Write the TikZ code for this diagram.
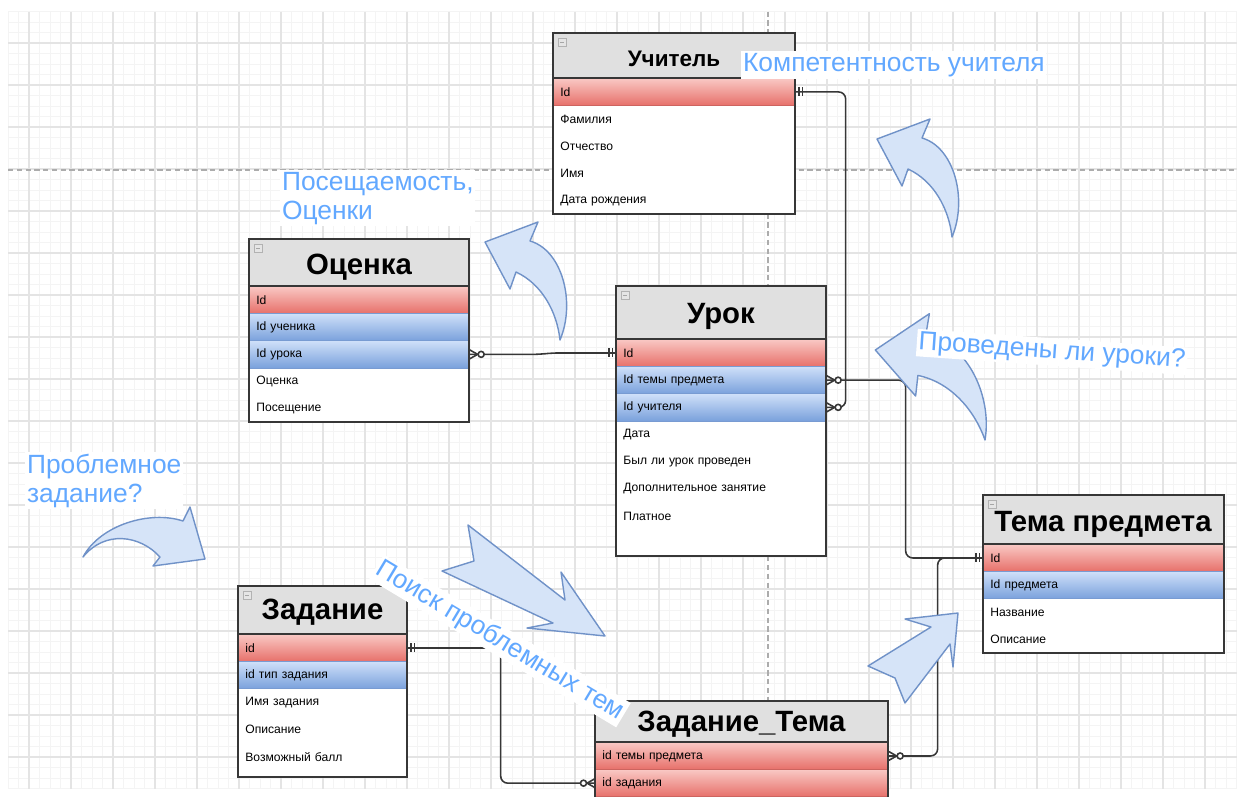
\documentclass[tikz,border=0pt]{standalone}
\usepackage{fontspec}
\setmainfont{Liberation Sans}
\usetikzlibrary{calc}
\definecolor{gridminor}{RGB}{244,244,244}
\definecolor{gridmajor}{RGB}{228,228,228}
\definecolor{hdrgray}{RGB}{224,224,224}
\definecolor{framegray}{RGB}{55,55,55}
\definecolor{pktop}{RGB}{249,200,196}
\definecolor{pkbot}{RGB}{231,112,106}
\definecolor{pkline}{RGB}{205,100,95}
\definecolor{fktop}{RGB}{207,224,249}
\definecolor{fkbot}{RGB}{122,161,220}
\definecolor{fkline}{RGB}{120,155,210}
\definecolor{arrowfill}{RGB}{214,228,248}
\definecolor{arrowline}{RGB}{112,146,200}
\definecolor{lblblue}{RGB}{98,168,255}

\newcommand\errow{\fontsize{6.9}{8}\selectfont}
\newcommand\ertitle{\bfseries\fontsize{16.7}{19}\selectfont}
\newcommand\erlabel{\fontsize{15}{16.5}\selectfont}

\tikzset{
  rowbase/.style={anchor=north west, minimum height=0.544cm, inner xsep=0.14cm,
    inner ysep=0pt, text width=#1, font=\errow},
  plainrow/.style={rowbase=#1},
  pkrow/.style={rowbase=#1, top color=pktop, bottom color=pkbot, draw=pkline, line width=0.4pt},
  fkrow/.style={rowbase=#1, top color=fktop, bottom color=fkbot, draw=fkline, line width=0.4pt},
  tbltitle/.style={anchor=base, inner sep=0pt, font=\ertitle},
  frame/.style={draw=framegray, line width=1pt},
  conn/.style={draw=framegray, line width=0.9pt, rounded corners=4pt},
  markline/.style={draw=framegray, line width=0.9pt},
  blockarrow/.style={fill=arrowfill, draw=arrowline, line width=0.8pt, line join=round},
  lbl/.style={font=\erlabel, text=lblblue, fill=white, inner sep=1pt},
  onemark/.pic={\draw[markline] (3.5,-4.5) -- (3.5,4.5) (7,-4.5) -- (7,4.5);},
  manymark/.pic={\draw[markline] (0,-4.5) -- (8,0) -- (0,4.5);
    \draw[markline, fill=white] (11.5,0) circle[radius=3];},
  minusbox/.pic={\draw[gray!60, fill=gray!20, line width=0.3pt] (5,5) rectangle (13,13);
    \draw[gray!70, line width=0.4pt] (7,9) -- (11,9);},
  bendarrow/.pic={\draw[blockarrow] (0,0) .. controls (-3,-28) and (-18,-56) .. (-44,-68)
    -- (-50,-51) -- (-75,-98) -- (-22,-118) -- (-30,-99)
    .. controls (2,-90) and (16,-38) .. (0,0) -- cycle;}
}

\begin{document}
\begin{tikzpicture}[x=0.02cm,y=-0.02cm]
  \useasboundingbox (0,0) rectangle (1245,796);
  \clip (0,0) rectangle (1245,796);

  % background grid
  \foreach \i in {0,...,117}
    \draw[gridminor, line width=0.4pt] (8+10.5*\i,11.5) -- (8+10.5*\i,788.5);
  \foreach \j in {0,...,74}
    \draw[gridminor, line width=0.4pt] (8,11.5+10.5*\j) -- (1236.5,11.5+10.5*\j);
  \foreach \i in {2,6,...,114}
    \draw[gridmajor, line width=0.6pt] (8+10.5*\i,11.5) -- (8+10.5*\i,788.5);
  \foreach \j in {3,7,...,71}
    \draw[gridmajor, line width=0.6pt] (8,11.5+10.5*\j) -- (1236.5,11.5+10.5*\j);
  \draw[gray!65, line width=0.6pt, dash pattern=on 3pt off 2pt] (8,170) -- (1236.5,170);
  \draw[gray!65, line width=0.6pt, dash pattern=on 3pt off 2pt] (768,11.5) -- (768,788.5);

  % Учитель
  \fill[white] (553,33) rectangle (795,214);
  \fill[hdrgray] (553,33) rectangle (795,78);
  \pic at (553,33) {minusbox};
  \node[tbltitle, font=\bfseries\fontsize{12.8}{15}\selectfont] (uch) at (674,66) {Учитель};
  \node[pkrow=4.56cm] (uch-id) at (553,78) {Id};
  \foreach \t [count=\k] in {Фамилия,Отчество,Имя,Дата рождения}
    \node[plainrow=4.56cm] (uch-r\k) at (553,78+27.2*\k) {\t};
  \draw[frame] (553,33) rectangle (795,214);
  \draw[framegray, line width=0.6pt] (553,78) -- (795,78);

  % Оценка
  \fill[white] (249,239) rectangle (469,422);
  \fill[hdrgray] (249,239) rectangle (469,286);
  \pic at (249,239) {minusbox};
  \node[tbltitle] (ocn) at (359,274.5) {Оценка};
  \node[pkrow=4.12cm] (ocn-id) at (249,286) {Id};
  \node[fkrow=4.12cm] (ocn-uchen) at (249,313.2) {Id ученика};
  \node[fkrow=4.12cm] (ocn-urok) at (249,340.4) {Id урока};
  \node[plainrow=4.12cm] (ocn-r1) at (249,367.6) {Оценка};
  \node[plainrow=4.12cm] (ocn-r2) at (249,394.8) {Посещение};
  \draw[frame] (249,239) rectangle (469,422);
  \draw[framegray, line width=0.6pt] (249,286) -- (469,286);

  % Урок
  \fill[white] (616,286) rectangle (826,556);
  \fill[hdrgray] (616,286) rectangle (826,339);
  \pic at (616,286) {minusbox};
  \node[tbltitle] (urk) at (721,323) {Урок};
  \node[pkrow=3.92cm] (urk-id) at (616,339) {Id};
  \node[fkrow=3.92cm] (urk-tema) at (616,366.2) {Id темы предмета};
  \node[fkrow=3.92cm] (urk-uchit) at (616,393.4) {Id учителя};
  \foreach \t [count=\k] in {Дата,Был ли урок проведен,Дополнительное занятие,Платное}
    \node[plainrow=3.92cm] (urk-r\k) at (616,393.4+27.2*\k) {\t};
  \draw[frame] (616,286) rectangle (826,556);
  \draw[framegray, line width=0.6pt] (616,339) -- (826,339);

  % Тема предмета
  \fill[white] (983,495) rectangle (1224,653);
  \fill[hdrgray] (983,495) rectangle (1224,544);
  \pic at (983,495) {minusbox};
  \node[tbltitle] (tema) at (1103,531.5) {Тема предмета};
  \node[pkrow=4.54cm] (tema-id) at (983,544) {Id};
  \node[fkrow=4.54cm] (tema-pred) at (983,571.2) {Id предмета};
  \node[plainrow=4.54cm] (tema-r1) at (983,598.4) {Название};
  \node[plainrow=4.54cm] (tema-r2) at (983,625.6) {Описание};
  \draw[frame] (983,495) rectangle (1224,653);
  \draw[framegray, line width=0.6pt] (983,544) -- (1224,544);

  % Задание
  \fill[white] (238,586) rectangle (407,777);
  \fill[hdrgray] (238,586) rectangle (407,634);
  \pic at (238,586) {minusbox};
  \node[tbltitle] (zad) at (322.5,619) {Задание};
  \node[pkrow=3.10cm] (zad-id) at (238,634) {id};
  \node[fkrow=3.10cm] (zad-tip) at (238,661.2) {id тип задания};
  \foreach \t [count=\k] in {Имя задания,Описание,Возможный балл}
    \node[plainrow=3.10cm] (zad-r\k) at (238,661.2+27.2*\k) {\t};
  \draw[frame] (238,586) rectangle (407,777);
  \draw[framegray, line width=0.6pt] (238,634) -- (407,634);

  % Задание_Тема
  \fill[white] (595,701) rectangle (888,810);
  \fill[hdrgray] (595,701) rectangle (888,742);
  \node[tbltitle] (zt) at (741.5,731) {Задание\_Тема};
  \node[pkrow=5.58cm] (zt-tema) at (595,742) {id темы предмета};
  \node[pkrow=5.58cm] (zt-zad) at (595,769.2) {id задания};
  \draw[frame] (595,701) rectangle (888,810);
  \draw[framegray, line width=0.6pt] (595,742) -- (888,742);

  % связи
  \draw[conn] (uch-id.east) -- ++(50,0) |- (urk-uchit.east);
  \draw[conn] (urk-tema.east) -- ++(79,0) |- (tema-id.west);
  \draw[conn] (ocn-urok.east) -- ++(70,0) -- ($(urk-id.west)+(-64,0)$) -- (urk-id.west);
  \draw[conn] (zad-id.east) -- ++(93,0) |- (zt-zad.west);
  \draw[conn] (zt-tema.east) -- ++(49,0) |- (tema-id.west);

  \pic at (uch-id.east) {onemark};
  \pic at (urk-uchit.east) {manymark};
  \pic at (urk-tema.east) {manymark};
  \pic[xscale=-1] at (tema-id.west) {onemark};
  \pic at (ocn-urok.east) {manymark};
  \pic[xscale=-1] at (urk-id.west) {onemark};
  \pic at (zad-id.east) {onemark};
  \pic[xscale=-1] at (zt-zad.west) {manymark};
  \pic at (zt-tema.east) {manymark};

  % стрелки
  \pic at (560,340) {bendarrow};
  \pic at (952,237) {bendarrow};
  \pic[rotate=13.2, scale=1.15] at (985,440) {bendarrow};
  \draw[blockarrow] (83,557) .. controls (100,525) and (150,510) .. (183,521)
    -- (190,507) -- (205,559) -- (153,566) -- (160,557)
    .. controls (140,535) and (105,530) .. (83,557) -- cycle;
  \draw[blockarrow] (468,525) -- (565,600) -- (561,572) -- (605,636)
    -- (527,628) -- (553,623) -- (442,571) -- (474,561) -- cycle;
  \draw[blockarrow] (958,613) -- (905,619) -- (931,627) -- (868,666)
    -- (895,678) -- (905,703) -- (950,644) -- (953,667) -- cycle;

  % подписи
  \node[lbl, anchor=west] (komp) at (741,65) {Компетентность учителя};
  \node[lbl, anchor=north west, align=left] (posesch) at (280,170) {Посещаемость,\\Оценки};
  \node[lbl, rotate=-4] (proved) at (1052,352) {Проведены ли уроки?};
  \node[lbl, anchor=north west, align=left] (problem) at (25,452) {Проблемное\\задание?};
  \node[lbl, rotate=-31] (poisk) at (500,641) {Поиск проблемных тем};
\end{tikzpicture}
\end{document}
